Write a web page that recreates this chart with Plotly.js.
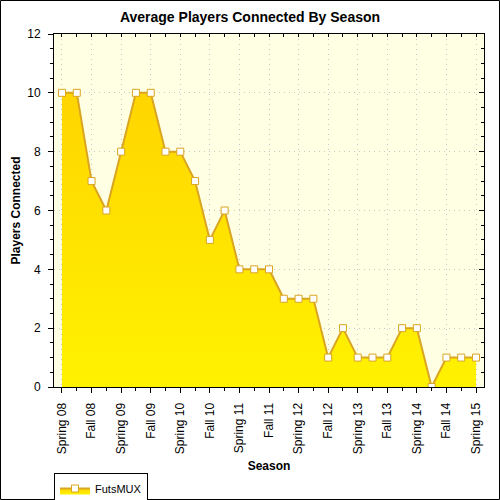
<!DOCTYPE html>
<html>
<head>
<meta charset="utf-8">
<script src="https://cdn.plot.ly/plotly-3.0.1.min.js"></script>
<style>html,body{margin:0;padding:0;background:#fff;}#chart{width:500px;height:500px;}</style>
</head>
<body>
<div id="chart"></div>
<script>
const seasons = ["Spring 08","Summer 08","Fall 08","Winter 08","Spring 09","Summer 09","Fall 09","Winter 09","Spring 10","Summer 10","Fall 10","Winter 10","Spring 11","Summer 11","Fall 11","Winter 11","Spring 12","Summer 12","Fall 12","Winter 12","Spring 13","Summer 13","Fall 13","Winter 13","Spring 14","Summer 14","Fall 14","Winter 14","Spring 15"];
const players = [10,10,7,6,8,10,10,8,8,7,5,6,4,4,4,3,3,3,1,2,1,1,1,2,2,0,1,1,1];
const tickLabels = ["Spring 08","Fall 08","Spring 09","Fall 09","Spring 10","Fall 10","Spring 11","Fall 11","Spring 12","Fall 12","Spring 13","Fall 13","Spring 14","Fall 14","Spring 15"];
const seriesName = "FutsMUX";

const tickVals = seasons.filter((s, i) => i % 2 === 0);
const xr = [-0.54, seasons.length - 1 + 0.54];
const font = "Liberation Sans, Arial, sans-serif";

const traces = [
  {
    x: seasons, y: players, name: seriesName, type: "scatter", mode: "lines+markers",
    fill: "tozeroy",
    fillgradient: {type: "vertical", start: 0, stop: 10, colorscale: [[0, "#FFF200"], [1, "#FFD500"]]},
    line: {color: "#DAA520", width: 2},
    marker: {symbol: "square", size: 7, color: "#FFFFFF", line: {color: "#DAA520", width: 1}},
    hoverinfo: "x+y"
  },
  {
    x: seasons, y: players, xaxis: "x2", yaxis: "y2", type: "scatter", mode: "lines",
    opacity: 0, showlegend: false, hoverinfo: "skip", line: {width: 0}
  }
];

const layout = {
  width: 500, height: 500,
  margin: {l: 54, r: 16, t: 34, b: 113, autoexpand: false},
  paper_bgcolor: "#FFFFFF",
  plot_bgcolor: "#FFFFE4",
  font: {family: font, size: 12, color: "#000"},
  title: {text: "Average Players Connected By Season", font: {family: font, size: 14, weight: "bold", color: "#000"}, x: 0.5, xanchor: "center", y: 0.966, yanchor: "middle"},
  xaxis: {
    type: "category", categoryorder: "array", categoryarray: seasons,
    range: xr, tickmode: "array", tickvals: tickVals, ticktext: tickLabels,
    tickangle: -90, ticks: "outside", ticklen: 5, tickcolor: "#000", ticklabelstandoff: 5,
    minor: {ticks: "outside", ticklen: 3, tickcolor: "#000", dtick: 1, showgrid: false},
    showline: true, linecolor: "#000", linewidth: 1,
    showgrid: true, gridcolor: "#C8C8C8", griddash: "1px,4px", gridwidth: 1,
    zeroline: false, tickfont: {family: font, size: 12, color: "#000"},
    title: {text: "Season", font: {family: font, size: 12, weight: "bold", color: "#000"}, standoff: 8}
  },
  yaxis: {
    range: [0, 12], dtick: 2, tick0: 0, ticks: "outside", ticklen: 5, tickcolor: "#000", ticklabelstandoff: 5,
    minor: {ticks: "outside", ticklen: 3, tickcolor: "#000", dtick: 0.5, showgrid: false},
    showline: true, linecolor: "#000", linewidth: 1,
    showgrid: true, gridcolor: "#C8C8C8", griddash: "1px,4px", gridwidth: 1,
    zeroline: false, tickfont: {family: font, size: 12, color: "#000"},
    title: {text: "Players Connected", font: {family: font, size: 12, weight: "bold", color: "#000"}, standoff: 4}
  },
  xaxis2: {
    type: "category", categoryorder: "array", categoryarray: seasons,
    overlaying: "x", side: "top", range: xr,
    tickmode: "array", tickvals: seasons, ticks: "inside", ticklen: 3, tickcolor: "#000",
    showticklabels: false, showline: true, linecolor: "#000", linewidth: 1, showgrid: false, zeroline: false
  },
  yaxis2: {
    overlaying: "y", side: "right", range: [0, 12], dtick: 2, tick0: 0,
    ticks: "inside", ticklen: 5, tickcolor: "#000",
    minor: {ticks: "inside", ticklen: 3, tickcolor: "#000", dtick: 0.5, showgrid: false},
    showticklabels: false, showline: true, linecolor: "#000", linewidth: 1, showgrid: false, zeroline: false
  },
  showlegend: true,
  legend: {
    x: 0, xanchor: "left", y: -(473 - 387) / 353, yanchor: "top",
    bgcolor: "#FFFFFF", bordercolor: "#000", borderwidth: 1,
    font: {family: font, size: 11, color: "#000"}, itemwidth: 30,
    tracegroupgap: 0
  },
  shapes: [{
    type: "rect", xref: "paper", yref: "paper", layer: "above",
    x0: (0.5 - 54) / 430, x1: (499.5 - 54) / 430,
    y0: (387 - 499.5) / 353, y1: (387 - 0.5) / 353,
    line: {color: "#000", width: 1}, fillcolor: "rgba(0,0,0,0)"
  }]
};

Plotly.newPlot("chart", traces, layout, {displayModeBar: false, staticPlot: true});
</script>
</body>
</html>
